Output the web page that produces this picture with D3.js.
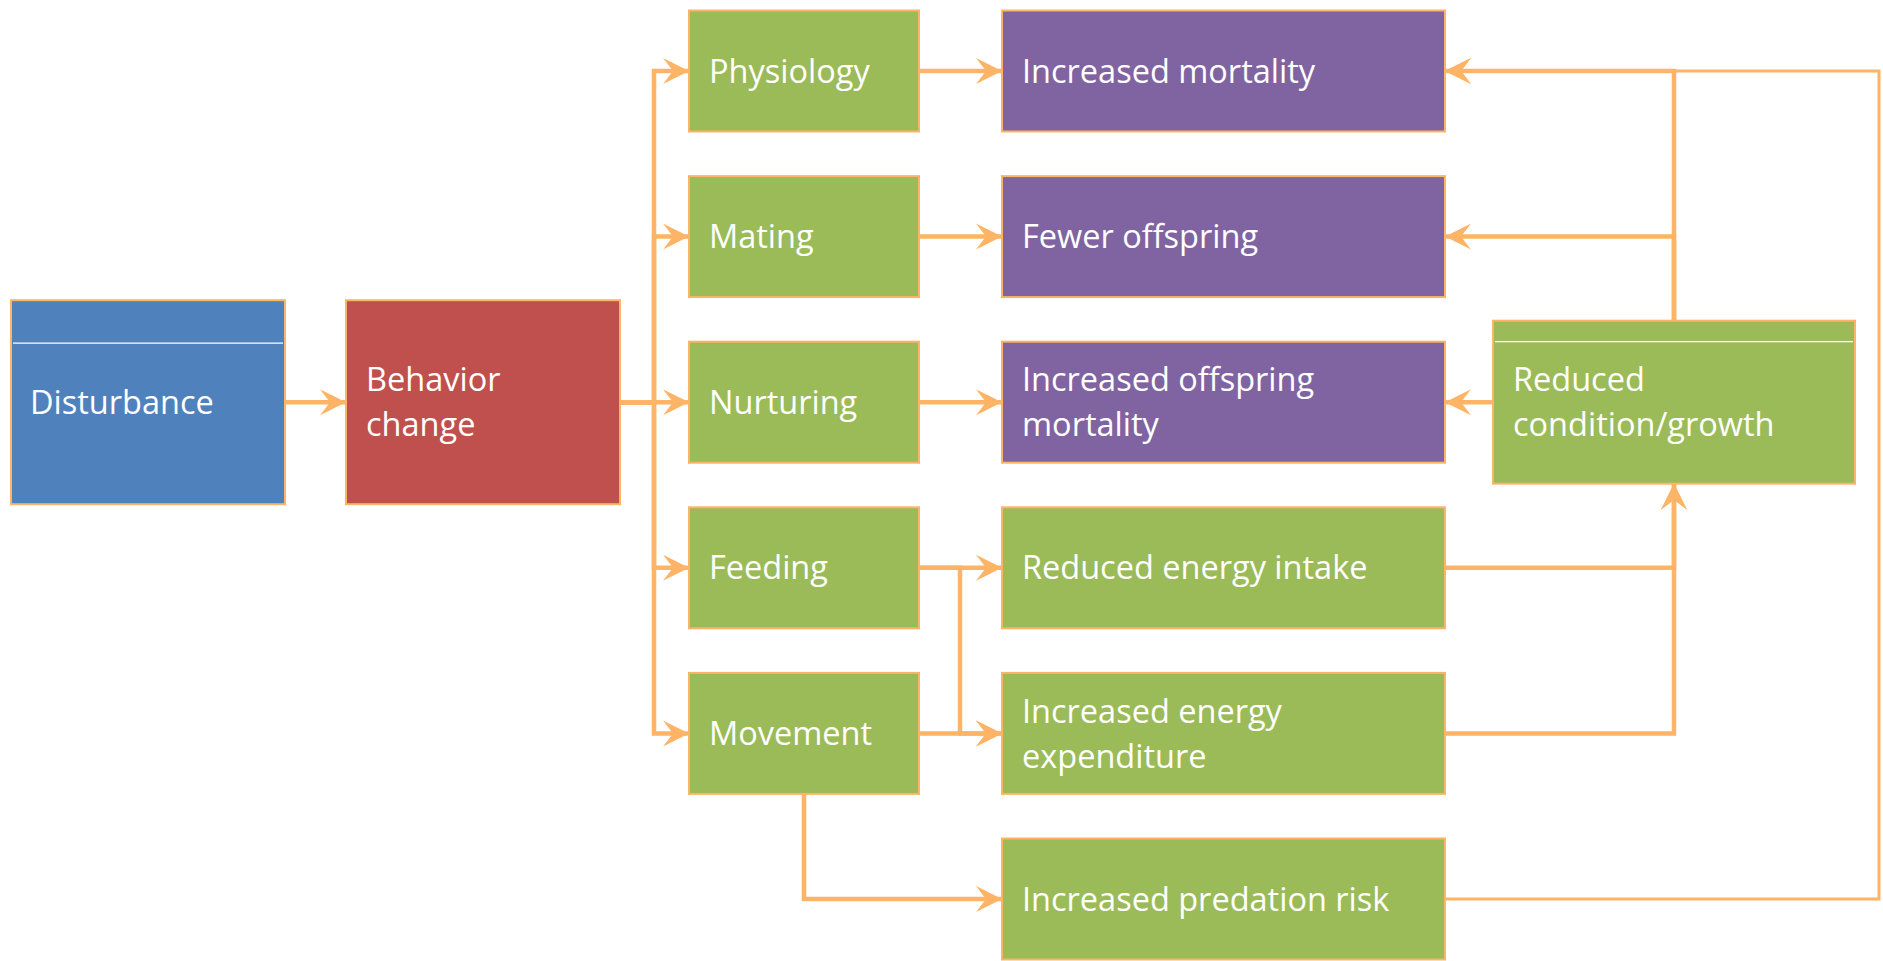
<!DOCTYPE html>
<meta charset="utf-8">
<style>
  body { margin: 0; background: #fff; }
  text { font-family: "Open Sans", sans-serif; fill: #fff; }
</style>
<svg width="1883" height="961"></svg>
<script src="https://d3js.org/d3.v7.min.js"></script>
<script>

// columns of the flow diagram, left to right
var columns = ["source", "behavior", "response", "outcome", "condition"];

// boxes: label lines, column, row, fill kind
var nodes = [
  { id: "dist",  lines: ["Disturbance"],                      col: "source",    row: 2, kind: "blue",   header: true },
  { id: "beh",   lines: ["Behavior", "change"],               col: "behavior",  row: 2, kind: "red" },
  { id: "phys",  lines: ["Physiology"],                       col: "response",  row: 0, kind: "green" },
  { id: "mate",  lines: ["Mating"],                           col: "response",  row: 1, kind: "green" },
  { id: "nurt",  lines: ["Nurturing"],                        col: "response",  row: 2, kind: "green" },
  { id: "feed",  lines: ["Feeding"],                          col: "response",  row: 3, kind: "green" },
  { id: "move",  lines: ["Movement"],                         col: "response",  row: 4, kind: "green" },
  { id: "mort",  lines: ["Increased mortality"],              col: "outcome",   row: 0, kind: "purple" },
  { id: "fewer", lines: ["Fewer offspring"],                  col: "outcome",   row: 1, kind: "purple" },
  { id: "omort", lines: ["Increased offspring", "mortality"], col: "outcome",   row: 2, kind: "purple" },
  { id: "intake",lines: ["Reduced energy intake"],            col: "outcome",   row: 3, kind: "green" },
  { id: "expend",lines: ["Increased energy", "expenditure"],  col: "outcome",   row: 4, kind: "green" },
  { id: "pred",  lines: ["Increased predation risk"],         col: "outcome",   row: 5, kind: "green" },
  { id: "cond",  lines: ["Reduced", "condition/growth"],      col: "condition", row: 2, kind: "green",  header: true }
];

// arrows: source, target, routing style
var links = [
  ["dist", "beh", "straight"],
  ["beh", "phys", "spine"],
  ["beh", "mate", "spine"],
  ["beh", "nurt", "spine"],
  ["beh", "feed", "spine"],
  ["beh", "move", "spine"],
  ["phys", "mort", "straight"],
  ["mate", "fewer", "straight"],
  ["nurt", "omort", "straight"],
  ["feed", "intake", "straight"],
  ["feed", "expend", "branch"],
  ["move", "expend", "straight"],
  ["move", "pred", "below"],
  ["intake", "cond", "up"],
  ["expend", "cond", "up"],
  ["cond", "mort", "top"],
  ["cond", "fewer", "top"],
  ["cond", "omort", "straight"],
  ["pred", "mort", "around"]
];

var svg = d3.select("svg");

var fills = { blue: "#4F81BD", red: "#C0504D", green: "#9BBB59", purple: "#8064A2" };
var orange = "#FDB466";

var rowY = d3.scaleLinear().domain([0, 5]).range([71, 899]);
var colX = d3.scaleOrdinal().domain(columns).range([11, 346, 689, 1002, 1493]);
var colW = d3.scaleOrdinal().domain(columns).range([274, 274, 230, 443, 362]);
var colH = d3.scaleOrdinal().domain(columns).range([204, 204, 121, 121, 163]);

var byId = {};
nodes.forEach(function(d) {
  d.x = colX(d.col);
  d.w = colW(d.col);
  d.h = colH(d.col);
  d.cy = rowY(d.row);
  d.y = d.cy - d.h / 2;
  byId[d.id] = d;
});

// bus lines
var spineX = 654, branchX = 960, outerX = 1879;

svg.append("defs").append("marker")
    .attr("id", "arrow")
    .attr("markerUnits", "userSpaceOnUse")
    .attr("viewBox", "0 -14 26 28")
    .attr("refX", 26).attr("refY", 0)
    .attr("markerWidth", 26).attr("markerHeight", 28)
    .attr("orient", "auto")
  .append("path")
    .attr("d", "M0,-13L26,0L0,13L10,0Z")
    .attr("fill", orange);

function route(l) {
  var s = byId[l[0]], t = byId[l[1]], p = d3.path();
  var condX = t.x + t.w / 2;
  switch (l[2]) {
    case "straight":
      if (t.x > s.x) { p.moveTo(s.x + s.w, t.cy); p.lineTo(t.x, t.cy); }
      else { p.moveTo(s.x, t.cy); p.lineTo(t.x + t.w, t.cy); }
      break;
    case "spine":
      p.moveTo(s.x + s.w, s.cy); p.lineTo(spineX, s.cy);
      p.lineTo(spineX, t.cy); p.lineTo(t.x, t.cy);
      break;
    case "branch":
      p.moveTo(s.x + s.w, s.cy); p.lineTo(branchX, s.cy);
      p.lineTo(branchX, t.cy); p.lineTo(t.x, t.cy);
      break;
    case "below":
      p.moveTo(s.x + s.w / 2, s.y + s.h); p.lineTo(s.x + s.w / 2, t.cy); p.lineTo(t.x, t.cy);
      break;
    case "up":
      p.moveTo(s.x + s.w, s.cy); p.lineTo(condX, s.cy); p.lineTo(condX, t.y + t.h);
      break;
    case "top":
      p.moveTo(s.x + s.w / 2, s.y); p.lineTo(s.x + s.w / 2, t.cy); p.lineTo(t.x + t.w, t.cy);
      break;
    case "around":
      p.moveTo(s.x + s.w, s.cy); p.lineTo(outerX, s.cy); p.lineTo(outerX, t.cy); p.lineTo(t.x + t.w, t.cy);
      break;
  }
  return p.toString();
}

svg.append("g")
    .attr("fill", "none")
    .attr("stroke", orange)
  .selectAll("path")
  .data(links)
  .enter().append("path")
    .attr("d", route)
    .attr("stroke-width", function(d) { return d[2] === "around" ? 3 : 4.5; })
    .attr("marker-end", "url(#arrow)");

var box = svg.append("g")
  .selectAll("g")
  .data(nodes)
  .enter().append("g")
    .attr("transform", function(d) { return "translate(" + d.x + "," + d.y + ")"; });

box.append("rect")
    .attr("width", function(d) { return d.w; })
    .attr("height", function(d) { return d.h; })
    .attr("fill", function(d) { return fills[d.kind]; })
    .attr("stroke", orange)
    .attr("stroke-width", 2);

// thin white header rule on two boxes
box.filter(function(d) { return d.header; }).append("line")
    .attr("x1", 2).attr("x2", function(d) { return d.w - 2; })
    .attr("y1", function(d) { return d.id === "dist" ? 43 : 21; })
    .attr("y2", function(d) { return d.id === "dist" ? 43 : 21; })
    .attr("stroke", "#fff")
    .attr("stroke-width", 1.2);

box.append("text")
    .attr("font-size", "32.5px")
    .selectAll("tspan")
    .data(function(d) {
      return d.lines.map(function(t, i) { return { t: t, i: i, n: d.lines.length, d: d }; });
    })
    .enter().append("tspan")
      .attr("x", function(e) { return e.d.col === "source" ? 19 : 20; })
      .attr("y", function(e) { return e.d.h / 2 + (e.i - (e.n - 1) / 2) * 45; })
      .attr("dy", "0.36em")
      .text(function(e) { return e.t; });

</script>
